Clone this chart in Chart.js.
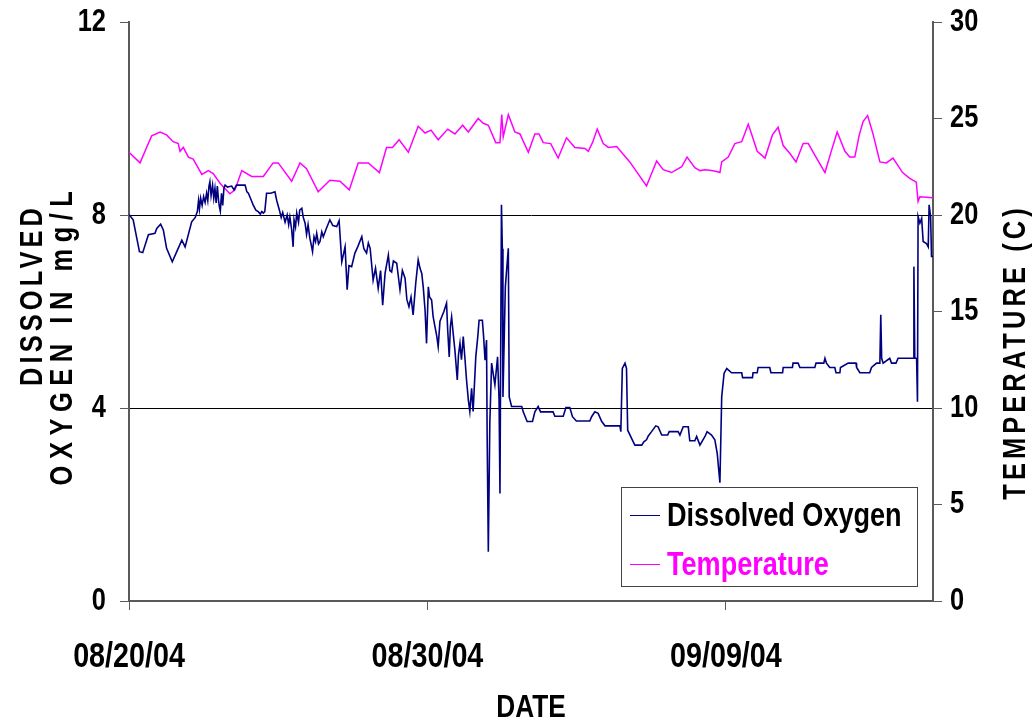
<!DOCTYPE html>
<html>
<head>
<meta charset="utf-8">
<script src="https://cdn.jsdelivr.net/npm/chart.js"></script>
<style>
  html, body { margin: 0; padding: 0; background: #fff; }
</style>
</head>
<body>
<canvas id="chart" width="1032" height="723"></canvas>
<script>
// x values are days since 08/20/04
const dateTicks = [0, 10, 20];
const dateLabels = ['08/20/04', '08/30/04', '09/09/04'];
const xMax = 26.94;

const doDays = [
  0, 0.14, 0.35, 0.46, 0.65, 0.87, 0.93, 1.06, 1.15, 1.26, 1.45, 1.60, 1.77, 1.88,
  2.10, 2.22, 2.29, 2.33, 2.36, 2.40, 2.45, 2.50, 2.55, 2.60, 2.64, 2.68, 2.71, 2.75,
  2.80, 2.84, 2.88, 2.92, 2.96, 3.00, 3.03, 3.06, 3.10, 3.14, 3.18, 3.22, 3.30, 3.44,
  3.52, 3.60, 3.75, 3.89, 3.95, 4.00, 4.10, 4.16, 4.25, 4.33, 4.40, 4.45, 4.50, 4.55,
  4.61, 4.75, 4.89, 4.95, 5.04, 5.10, 5.15, 5.23, 5.30, 5.35, 5.39, 5.45, 5.50, 5.53,
  5.58, 5.62, 5.68, 5.72, 5.79, 5.84, 5.90, 5.95, 6.00, 6.06, 6.10, 6.15, 6.20, 6.25,
  6.29, 6.35, 6.40, 6.46, 6.51, 6.60, 6.73, 6.83, 6.96, 7.04, 7.13, 7.24, 7.31, 7.37,
  7.46, 7.57, 7.67, 7.80, 7.87, 7.96, 8.02, 8.08, 8.18, 8.26, 8.35, 8.43, 8.50, 8.58,
  8.69, 8.74, 8.80, 8.86, 8.97, 9.08, 9.16, 9.25, 9.31, 9.38, 9.45, 9.52, 9.61, 9.69,
  9.75, 9.81, 9.86, 9.92, 9.97, 10.03, 10.07, 10.14, 10.19, 10.25, 10.31, 10.36, 10.42,
  10.48, 10.55, 10.64, 10.68, 10.73, 10.77, 10.81, 10.87, 10.92, 11.00, 11.04, 11.09,
  11.14, 11.20, 11.26, 11.31, 11.37, 11.42, 11.48, 11.53, 11.62, 11.69, 11.73, 11.84,
  11.88, 11.93, 11.98, 12.00, 12.04, 12.09, 12.15, 12.26, 12.35, 12.40, 12.43, 12.48,
  12.51, 12.53, 12.61, 12.71, 12.74, 12.82, 13.16, 13.21, 13.34, 13.52, 13.60, 13.71,
  13.79, 14.21, 14.27, 14.55, 14.64, 14.77, 14.86, 14.99, 15.44, 15.50, 15.61, 15.72,
  15.84, 15.95, 16.45, 16.48, 16.53, 16.62, 16.67, 16.71, 16.84, 16.95, 17.18, 17.25,
  17.34, 17.40, 17.51, 17.65, 17.73, 17.85, 18.05, 18.10, 18.40, 18.46, 18.57, 18.74,
  18.79, 18.96, 19.02, 19.13, 19.30, 19.37, 19.52, 19.63, 19.71, 19.76, 19.80, 19.86,
  19.94, 20.03, 20.08, 20.19, 20.53, 20.56, 20.89, 20.91, 21.05, 21.08, 21.47, 21.51,
  21.90, 21.92, 22.23, 22.25, 22.42, 22.48, 22.98, 23.02, 23.28, 23.32, 23.37, 23.48,
  23.65, 23.69, 23.82, 23.84, 24.10, 24.36, 24.38, 24.49, 24.82, 24.88, 25.05, 25.16,
  25.19, 25.22, 25.27, 25.49, 25.55, 25.70, 25.77, 26.28, 26.30, 26.33, 26.39, 26.42,
  26.44, 26.50, 26.56, 26.61, 26.72, 26.78, 26.81, 26.86, 26.89, 26.94
];
const doValues = [
  8.01, 7.90, 7.24, 7.22, 7.59, 7.62, 7.72, 7.81, 7.69, 7.31, 7.03, 7.24, 7.48, 7.34,
  7.86, 7.95, 8.07, 8.30, 8.12, 8.35, 8.20, 8.38, 8.26, 8.45, 8.30, 8.60, 8.69, 8.40,
  8.62, 8.35, 8.55, 8.25, 8.60, 8.30, 8.17, 8.08, 8.45, 8.20, 8.55, 8.62, 8.58, 8.60,
  8.52, 8.62, 8.62, 8.62, 8.48, 8.45, 8.30, 8.21, 8.10, 8.07, 8.02, 8.07, 8.04, 8.07,
  8.45, 8.45, 8.48, 8.30, 8.10, 7.95, 8.05, 7.85, 8.00, 7.80, 7.96, 7.70, 7.34, 7.90,
  7.75, 8.04, 7.85, 8.10, 8.14, 7.95, 7.83, 7.60, 7.80, 7.52, 7.40, 7.24, 7.55, 7.45,
  7.62, 7.40, 7.45, 7.65, 7.55, 7.70, 7.90, 7.78, 7.76, 7.88, 7.03, 7.34, 6.45, 6.95,
  6.93, 7.21, 7.35, 7.55, 7.30, 7.21, 7.42, 7.31, 6.65, 6.90, 6.48, 6.85, 6.13, 6.79,
  7.17, 6.85, 6.82, 7.05, 7.00, 6.45, 6.85, 6.69, 6.25, 6.10, 6.30, 5.93, 6.60, 7.07,
  6.90, 6.79, 6.50, 6.03, 5.34, 6.51, 6.30, 6.24, 5.90, 5.69, 5.50, 5.27, 5.80,
  5.89, 6.00, 6.17, 5.60, 5.06, 5.70, 5.89, 5.50, 5.20, 4.58, 5.10, 5.34,
  5.00, 5.48, 5.00, 4.58, 4.17, 3.93, 4.41, 3.93, 5.06, 5.50, 5.82, 5.82,
  5.50, 4.99, 5.41, 3.47, 1.02, 3.68, 4.93, 4.48, 5.06, 4.17, 2.23, 8.21,
  7.30, 4.23, 6.51, 7.31, 4.23, 4.03, 4.03, 3.92, 3.72, 3.72, 3.92, 4.03,
  3.92, 3.92, 3.83, 3.83, 4.01, 4.01, 3.82, 3.73, 3.73, 3.82, 3.92, 3.89,
  3.72, 3.63, 3.63, 3.51, 4.82, 4.93, 4.82, 3.54, 3.37, 3.23, 3.23, 3.30,
  3.34, 3.42, 3.51, 3.63, 3.61, 3.44, 3.44, 3.51, 3.51, 3.44, 3.61, 3.61,
  3.32, 3.32, 3.41, 3.23, 3.41, 3.51, 3.44, 3.34, 3.06, 2.72, 2.45, 4.23,
  4.72, 4.82, 4.79, 4.73, 4.73, 4.63, 4.63, 4.73, 4.73, 4.84, 4.84, 4.73,
  4.73, 4.84, 4.84, 4.93, 4.93, 4.84, 4.84, 4.93, 4.93, 5.03, 4.93, 4.84,
  4.84, 4.73, 4.73, 4.84, 4.93, 4.93, 4.84, 4.73, 4.73, 4.84, 4.93, 4.93,
  5.93, 5.03, 4.93, 5.03, 4.93, 4.93, 5.03, 5.03, 6.93, 5.03, 5.03, 4.13,
  7.97, 7.83, 7.93, 7.45, 7.41, 7.34, 8.21, 7.97, 7.14, 7.14
];

const tempDays = [
  0, 0.37, 0.59, 0.76, 1.04, 1.26, 1.48, 1.65, 1.71, 1.82, 1.99, 2.15, 2.44, 2.66,
  2.82, 3.05, 3.38, 3.55, 3.78, 4.11, 4.50, 4.83, 5.00, 5.45, 5.73, 5.95, 6.34, 6.73,
  7.07, 7.38, 7.68, 8.02, 8.39, 8.63, 8.83, 9.05, 9.36, 9.69, 9.92, 10.12, 10.36,
  10.68, 10.92, 11.18, 11.37, 11.70, 11.87, 12.04, 12.29, 12.43, 12.49, 12.54, 12.71,
  12.93, 13.10, 13.38, 13.60, 13.74, 13.88, 14.13, 14.38, 14.66, 14.94, 15.28, 15.39,
  15.53, 15.69, 15.89, 16.06, 16.34, 16.78, 17.34, 17.68, 17.90, 18.18, 18.52, 18.70,
  18.96, 19.13, 19.30, 19.52, 19.69, 19.80, 19.86, 20.08, 20.30, 20.53, 20.75, 20.86,
  21.05, 21.31, 21.56, 21.75, 21.92, 22.14, 22.35, 22.59, 22.76, 22.98, 23.32, 23.54,
  23.73, 23.99, 24.15, 24.32, 24.47, 24.60, 24.75, 24.93, 25.16, 25.38, 25.60, 25.92,
  26.16, 26.38, 26.44, 26.50, 26.94
];
const tempValues = [
  23.25, 22.7, 23.5, 24.1, 24.3, 24.15, 23.8, 23.7, 23.3, 23.5, 23.0, 22.9, 22.1, 22.3,
  22.15, 21.65, 21.1, 21.3, 22.3, 22.0, 22.0, 22.7, 22.7, 21.75, 22.7, 22.4, 21.2, 21.8,
  21.75, 21.3, 22.7, 22.7, 22.2, 23.5, 23.5, 23.9, 23.25, 24.6, 24.25, 24.4, 23.9,
  24.45, 24.2, 24.65, 24.3, 25.0, 24.75, 24.65, 23.75, 23.75, 25.2, 24.05, 25.2,
  24.3, 24.2, 23.25, 24.2, 24.2, 23.75, 23.7, 22.95, 24.0, 23.5, 23.45, 23.3,
  23.75, 24.45, 23.7, 23.5, 23.55, 22.75, 21.5, 22.8, 22.35, 22.2, 22.5, 23.0,
  22.45, 22.3, 22.35, 22.3, 22.25, 22.2, 22.75, 23.0, 23.7, 23.8, 24.7, 24.2,
  23.3, 22.95, 24.15, 24.55, 23.6, 23.2, 22.75, 23.7, 23.7, 23.1, 22.2, 23.35,
  24.3, 23.3, 23.0, 23.0, 24.15, 24.85, 25.15, 24.2, 22.75, 22.7, 22.95, 22.2,
  21.9, 21.7, 20.7, 20.95, 20.9
];

const FONT = "'Liberation Sans', Arial, sans-serif";
const NARROW_X = 0.82; // squeeze text sideways to look like Arial Narrow
const AXIS_GRAY = '#5a5a5a';

const canvas = document.getElementById('chart');
const ctx2d = canvas.getContext('2d');
const rawFillText = CanvasRenderingContext2D.prototype.fillText;
ctx2d.fillText = function (text, x, y, maxWidth) {
  this.save();
  this.translate(x, y);
  this.scale(NARROW_X, 1);
  if (maxWidth === undefined) rawFillText.call(this, text, 0, 0);
  else rawFillText.call(this, text, 0, 0, maxWidth / NARROW_X);
  this.restore();
};

function rotatedTitle(ctx, text, x, y, spacing) {
  ctx.save();
  ctx.letterSpacing = spacing + 'px';
  ctx.translate(x, y);
  ctx.rotate(-Math.PI / 2);
  ctx.fillText(text, 0, 0);
  ctx.restore();
}

// axis titles and the boxed legend inside the plot
const extras = {
  id: 'extras',
  afterDraw(chart) {
    const ctx = chart.ctx;
    ctx.save();
    ctx.fillStyle = '#000';
    ctx.font = 'bold 31px ' + FONT;
    ctx.textAlign = 'center';
    ctx.textBaseline = 'middle';

    rotatedTitle(ctx, 'DISSOLVED', 33, 295, 5);
    rotatedTitle(ctx, 'OXYGEN IN mg/L', 63, 335, 8);
    rotatedTitle(ctx, 'TEMPERATURE (C)', 1016, 352, 5);

    ctx.font = 'bold 32px ' + FONT;
    ctx.fillText('DATE', 531, 708);

    // legend
    const bx = 621, by = 487, bw = 296, bh = 99;
    ctx.fillStyle = '#fff';
    ctx.fillRect(bx, by, bw, bh);
    ctx.strokeStyle = '#444';
    ctx.lineWidth = 1;
    ctx.strokeRect(bx + 0.5, by + 0.5, bw, bh);
    ctx.textAlign = 'left';
    ctx.textBaseline = 'alphabetic';
    ctx.font = 'bold 33px ' + FONT;
    chart.data.datasets.forEach((ds, i) => {
      const y = 515 + i * 49;
      ctx.strokeStyle = ds.borderColor;
      ctx.beginPath();
      ctx.moveTo(630, y + 0.5);
      ctx.lineTo(660, y + 0.5);
      ctx.stroke();
      ctx.fillStyle = ds.legendText;
      ctx.fillText(ds.label, 667, y + 11);
    });
    ctx.restore();
  }
};

const tickFont = { family: FONT, size: 31, weight: 'bold' };

new Chart(canvas, {
  type: 'line',
  data: {
    datasets: [
      {
        label: 'Dissolved Oxygen',
        data: doDays.map((d, i) => ({ x: d, y: doValues[i] })),
        borderColor: '#000080',
        legendText: '#000',
        borderWidth: 1.6,
        pointRadius: 0,
        tension: 0,
        yAxisID: 'y'
      },
      {
        label: 'Temperature',
        data: tempDays.map((d, i) => ({ x: d, y: tempValues[i] })),
        borderColor: '#ff00ff',
        legendText: '#ff00ff',
        borderWidth: 1.5,
        pointRadius: 0,
        tension: 0,
        yAxisID: 'y1'
      }
    ]
  },
  options: {
    responsive: false,
    animation: false,
    devicePixelRatio: 1,
    layout: { padding: { top: 22, left: 0, right: 0, bottom: 0 } },
    plugins: { legend: { display: false }, tooltip: { enabled: false } },
    scales: {
      x: {
        type: 'linear',
        min: 0,
        max: xMax,
        afterBuildTicks: s => { s.ticks = dateTicks.map(v => ({ value: v })); },
        afterFit: s => { s.height = 122; s.paddingLeft = 0; s.paddingRight = 0; },
        border: { color: AXIS_GRAY, width: 2 },
        grid: { drawOnChartArea: false, tickLength: 9, tickColor: AXIS_GRAY },
        ticks: {
          autoSkip: false,
          maxRotation: 0,
          padding: 26,
          color: '#000',
          font: { family: FONT, size: 35, weight: 'bold' },
          callback: v => dateLabels[dateTicks.indexOf(v)] || ''
        }
      },
      y: {
        position: 'left',
        min: 0,
        max: 12,
        afterFit: s => { s.width = 129; s.paddingTop = 0; s.paddingBottom = 0; },
        border: { color: AXIS_GRAY, width: 2 },
        grid: {
          color: c => (c.tick && (c.tick.value === 4 || c.tick.value === 8)) ? '#000' : 'rgba(0,0,0,0)',
          tickColor: AXIS_GRAY,
          tickLength: 9
        },
        ticks: { stepSize: 4, padding: 14, color: '#000', font: tickFont }
      },
      y1: {
        position: 'right',
        min: 0,
        max: 30,
        afterFit: s => { s.width = 99; s.paddingTop = 0; s.paddingBottom = 0; },
        border: { color: AXIS_GRAY, width: 2 },
        grid: { drawOnChartArea: false, tickColor: AXIS_GRAY, tickLength: 9 },
        ticks: { stepSize: 5, padding: 8, color: '#000', font: tickFont }
      }
    }
  },
  plugins: [extras]
});
</script>
</body>
</html>
